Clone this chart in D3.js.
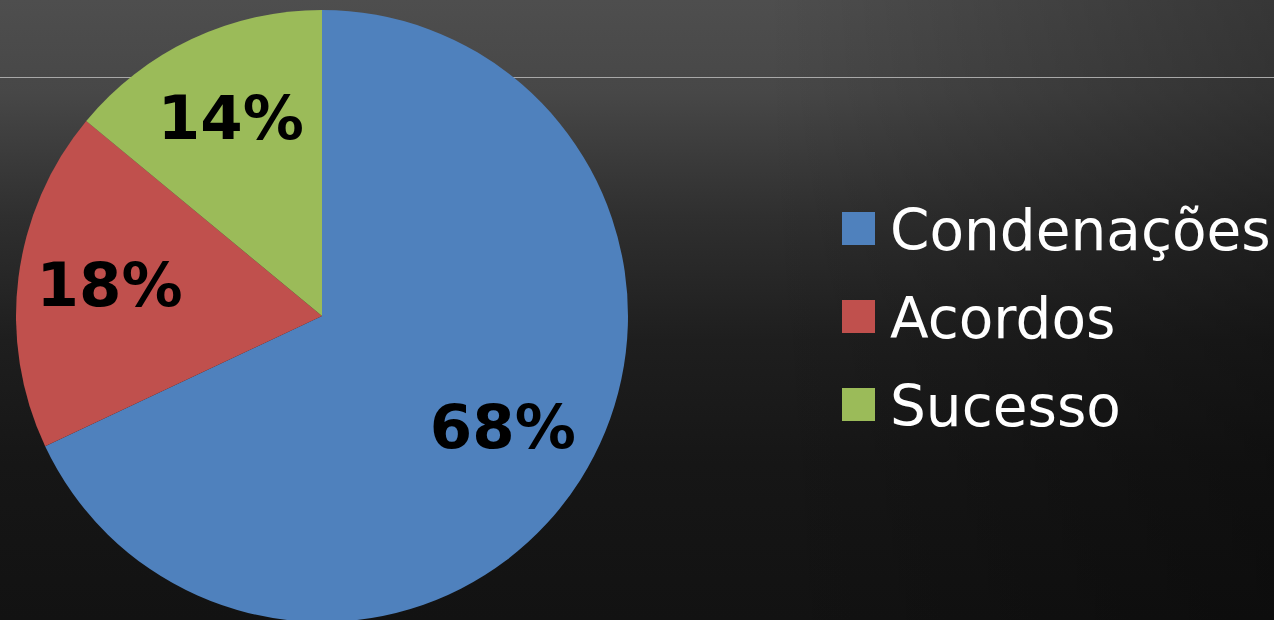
<!DOCTYPE html>
<html><head><meta charset="utf-8">
<script src="https://cdn.jsdelivr.net/npm/d3@7"></script>
<style>html,body{margin:0;padding:0;background:#141414;overflow:hidden}</style>
</head><body>
<svg id="c" width="1274" height="620"></svg>
<script>
const categories = ["Condenações", "Acordos", "Sucesso"];
const values = [68, 18, 14];
const labels = ["68%", "18%", "14%"];
const colors = ["#4f81bd", "#c0504d", "#9bbb59"];

const W = 1274, H = 620;
const svg = d3.select("#c");
const defs = svg.append("defs");
const bg = defs.append("linearGradient").attr("id","bg").attr("x1",0).attr("y1",0).attr("x2",0).attr("y2",1);
[[0,"#4e4e4e"],[0.15,"#474747"],[0.35,"#2f2f2f"],[0.55,"#1e1e1e"],[0.75,"#161616"],[1,"#121212"]]
  .forEach(([o,c])=>bg.append("stop").attr("offset",o).attr("stop-color",c));
const side = defs.append("linearGradient").attr("id","side").attr("x1",0).attr("y1",0).attr("x2",1).attr("y2",0);
side.append("stop").attr("offset",0.6).attr("stop-color","#000").attr("stop-opacity",0);
side.append("stop").attr("offset",1).attr("stop-color","#000").attr("stop-opacity",0.3);
svg.append("rect").attr("width",W).attr("height",H).attr("fill","url(#bg)");
svg.append("rect").attr("width",W).attr("height",H).attr("fill","url(#side)");
svg.append("line").attr("x1",0).attr("x2",W).attr("y1",77.5).attr("y2",77.5)
  .attr("stroke","#a8a8a8").attr("stroke-width",1);

const cx = 322, cy = 316, r = 306;
const pie = d3.pie().sort(null).value(d => d)(values);
const arc = d3.arc().innerRadius(0).outerRadius(r);
const labelArc = d3.arc().innerRadius(r*0.7).outerRadius(r*0.7);
const g = svg.append("g").attr("transform",`translate(${cx},${cy})`);
g.selectAll("path").data(pie).join("path")
  .attr("d", arc).attr("fill",(d,i)=>colors[i]);
g.selectAll("text").data(pie).join("text")
  .attr("transform", d => `translate(${labelArc.centroid(d)})`)
  .attr("text-anchor","middle").attr("dy","0.28em")
  .attr("font-family","DejaVu Sans").attr("font-weight","bold")
  .attr("font-size",61).attr("fill","#000")
  .text((d,i)=>labels[i]);

const leg = svg.append("g").attr("transform","translate(842,212)");
const rowH = 88;
categories.forEach((c,i)=>{
  const row = leg.append("g").attr("transform",`translate(0,${i*rowH})`);
  row.append("rect").attr("width",33).attr("height",33).attr("fill",colors[i]);
  row.append("text").attr("x",48).attr("y",38)
    .attr("font-family","DejaVu Sans").attr("font-size",56.5).attr("fill","#fff").text(c);
});
</script>
</body></html>
